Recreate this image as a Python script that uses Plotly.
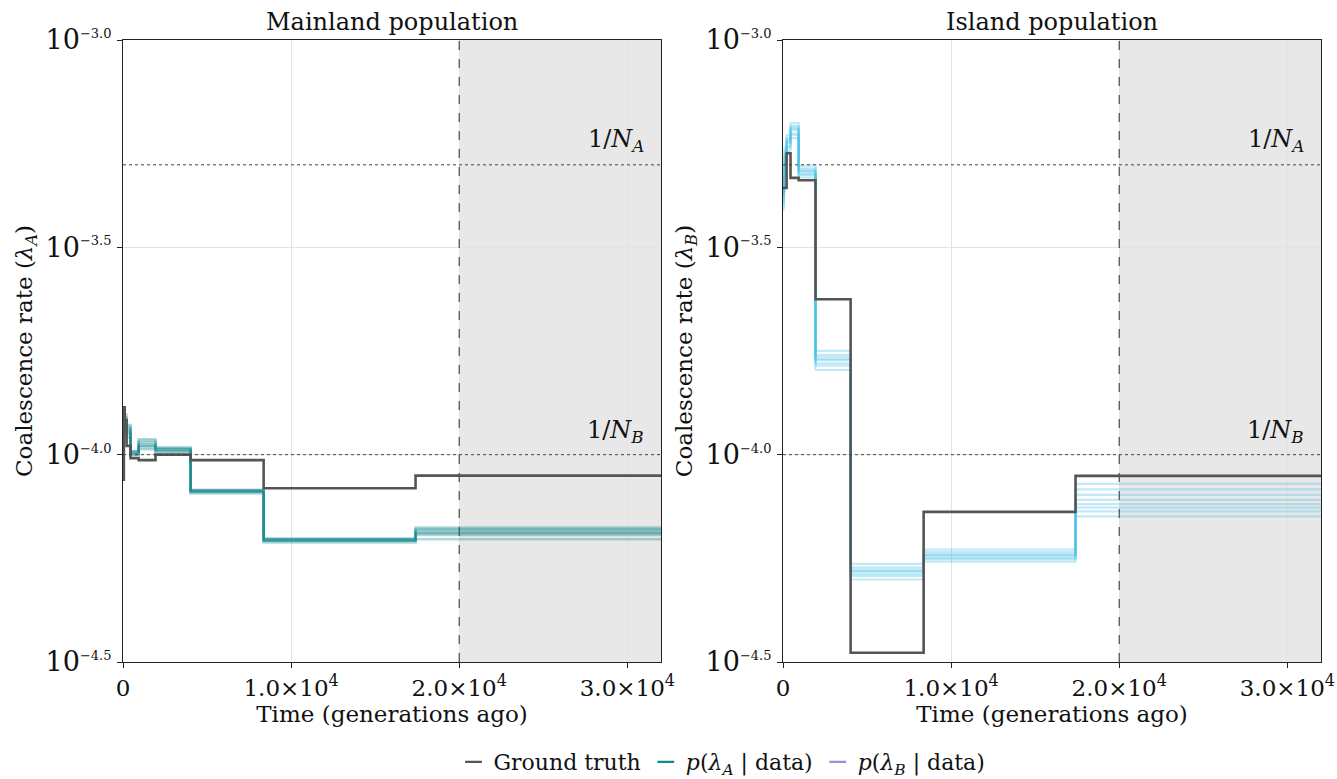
import plotly.graph_objects as go

# Epoch start times (generations ago); the last value closes the final epoch
epoch_starts = [0, 50, 103, 215, 447, 930, 1934, 4022, 8365, 17400]
t_max = 32000
t_split = 20000

# Reference coalescence levels
N_A = 2000
N_B = 10000

# Ground-truth coalescence rates per epoch (units of 1e-4)
truth_A = [0.87, 1.30, 1.21, 1.05, 0.98, 0.97, 1.00, 0.97, 0.83, 0.89]
truth_B = [4.40, 4.40, 4.40, 5.33, 4.65, 4.59, 2.37, 0.333, 0.728, 0.889]

# Posterior samples of lambda_A per epoch (units of 1e-4)
post_A = [
    [1.00, 1.12, 1.16, 1.10, 0.99, 1.03, 1.01, 0.806, 0.614, 0.625],
    [1.08, 1.22, 1.25, 1.18, 1.02, 1.09, 1.04, 0.823, 0.628, 0.668],
    [1.04, 1.16, 1.20, 1.14, 1.00, 1.05, 1.02, 0.814, 0.619, 0.645],
    [1.06, 1.20, 1.23, 1.16, 1.02, 1.07, 1.03, 0.820, 0.625, 0.659],
    [1.03, 1.15, 1.18, 1.13, 1.01, 1.04, 1.03, 0.812, 0.620, 0.640],
    [1.07, 1.19, 1.22, 1.17, 1.01, 1.08, 1.04, 0.821, 0.626, 0.662],
    [1.05, 1.17, 1.21, 1.15, 1.00, 1.06, 1.02, 0.817, 0.621, 0.652],
    [1.02, 1.21, 1.19, 1.12, 1.01, 1.05, 1.03, 0.815, 0.623, 0.648],
]

# Posterior samples of lambda_B per epoch (units of 1e-4)
post_B = [
    [3.90, 4.30, 4.90, 5.40, 5.80, 4.66, 1.60, 0.500, 0.552, 0.710],
    [4.50, 4.90, 5.50, 5.90, 6.30, 4.98, 1.78, 0.545, 0.590, 0.850],
    [4.10, 4.50, 5.10, 5.55, 5.95, 4.75, 1.66, 0.515, 0.563, 0.745],
    [4.30, 4.70, 5.30, 5.75, 6.15, 4.86, 1.72, 0.528, 0.576, 0.800],
    [4.00, 4.40, 5.00, 5.50, 5.90, 4.72, 1.64, 0.510, 0.560, 0.730],
    [4.40, 4.80, 5.40, 5.80, 6.20, 4.90, 1.74, 0.535, 0.582, 0.825],
    [4.20, 4.60, 5.20, 5.65, 6.05, 4.80, 1.69, 0.522, 0.569, 0.778],
    [4.25, 4.55, 5.25, 5.70, 6.10, 4.83, 1.70, 0.524, 0.572, 0.760],
]

x_tick_vals = [0, 10000, 20000, 30000]
x_tick_text = ["0", "1.0×10<sup>4</sup>", "2.0×10<sup>4</sup>", "3.0×10<sup>4</sup>"]
y_exponents = ["−4.5", "−4.0", "−3.5", "−3.0"]
y_tick_vals = [10 ** -4.5, 1e-4, 10 ** -3.5, 1e-3]

SCALE = 1e-4
FONT = "DejaVu Serif"
TRUTH_COLOR = "#555555"
COLOR_A = "#12898d"
COLOR_B = "#45c0e6"
LEGEND_B = "#9a8fe2"


def step_xy(values):
    xs = list(epoch_starts) + [t_max]
    ys = [v * SCALE for v in values] + [values[-1] * SCALE]
    return xs, ys


fig = go.Figure()

panels = [
    ("x", "y", post_A, truth_A, COLOR_A, 0.32, 2.4),
    ("x2", "y2", post_B, truth_B, COLOR_B, 0.32, 2.2),
]
for xref, yref, samples, truth, color, alpha, lw in panels:
    for s in samples:
        xs, ys = step_xy(s)
        fig.add_trace(go.Scatter(
            x=xs, y=ys, mode="lines", line=dict(color=color, width=lw, shape="hv"),
            opacity=alpha, showlegend=False, hoverinfo="skip", xaxis=xref, yaxis=yref))
    xs, ys = step_xy(truth)
    fig.add_trace(go.Scatter(
        x=xs, y=ys, mode="lines", line=dict(color=TRUTH_COLOR, width=2.6, shape="hv"),
        showlegend=False, xaxis=xref, yaxis=yref))

# Legend entries
for name, color in [("Ground truth", TRUTH_COLOR),
                    ("<i>p</i>(<i>λ</i><sub><i>A</i></sub> | data)", COLOR_A),
                    ("<i>p</i>(<i>λ</i><sub><i>B</i></sub> | data)", LEGEND_B)]:
    fig.add_trace(go.Scatter(
        x=[None], y=[None], mode="markers", name=name,
        marker=dict(symbol="line-ew", size=12, line=dict(color=color, width=2.2)),
        xaxis="x", yaxis="y"))

y_text = [f"10<sup><span style='font-size:13px'>{e}</span></sup>" for e in y_exponents]

axis_common = dict(
    showline=True, linecolor="#222222", linewidth=1.2, mirror=True,
    ticks="outside", ticklen=5, tickcolor="#222222", automargin=False,
    showgrid=True, gridcolor="#e3e3e3", gridwidth=1, zeroline=False,
)
x_common = dict(range=[0, t_max], tickvals=x_tick_vals, ticktext=x_tick_text,
                tickfont=dict(size=23),
                title=dict(text="Time (generations ago)", font=dict(size=23), standoff=6))
y_common = dict(domain=[1 - 662 / 779, 1 - 40 / 779], type="log", range=[-4.5, -3.0],
                tickvals=y_tick_vals, ticktext=y_text, tickfont=dict(size=27))

fig.update_layout(
    width=1337, height=779,
    margin=dict(l=0, r=0, t=0, b=0, autoexpand=False),
    paper_bgcolor="white", plot_bgcolor="white",
    font=dict(family=FONT, size=23, color="#111111"),
    xaxis=dict(domain=[123 / 1337, 661 / 1337], anchor="y", **x_common, **axis_common),
    xaxis2=dict(domain=[783 / 1337, 1321 / 1337], anchor="y2", **x_common, **axis_common),
    yaxis=dict(anchor="x",
               title=dict(text="Coalescence rate (<i>λ</i><sub><i>A</i></sub>)",
                          font=dict(size=23), standoff=6),
               **y_common, **axis_common),
    yaxis2=dict(anchor="x2",
                title=dict(text="Coalescence rate (<i>λ</i><sub><i>B</i></sub>)",
                           font=dict(size=23), standoff=6),
                **y_common, **axis_common),
    legend=dict(orientation="h", x=722 / 1337, xanchor="center", y=1 - 762 / 779,
                yanchor="middle", font=dict(size=22), itemwidth=30, tracegroupgap=0,
                bgcolor="rgba(0,0,0,0)"),
)

for xref, yref in [("x", "y"), ("x2", "y2")]:
    # Region beyond the split time
    fig.add_shape(type="rect", xref=xref, yref=f"{yref} domain", x0=t_split, x1=t_max,
                  y0=0, y1=1, fillcolor="#e8e8e8", line=dict(width=0), layer="below")
    fig.add_shape(type="line", xref=xref, yref=f"{yref} domain", x0=t_split, x1=t_split,
                  y0=0, y1=1, line=dict(color="#555555", width=1.3, dash="dash"))
    for N, lab in [(N_A, "A"), (N_B, "B")]:
        fig.add_shape(type="line", xref=f"{xref} domain", yref=yref, x0=0, x1=1,
                      y0=1 / N, y1=1 / N, line=dict(color="#444444", width=1, dash="dot"))
        fig.add_annotation(x=31100, y=-3.3 if lab == "A" else -4.0, xref=xref, yref=yref,
                           text=f"1/<i>N</i><sub><i>{lab}</i></sub>", showarrow=False,
                           xanchor="right", yanchor="bottom", yshift=6,
                           font=dict(size=24))

for label, x0, x1 in [("Mainland population", 123, 661), ("Island population", 783, 1321)]:
    fig.add_annotation(x=(x0 + x1) / 2 / 1337, y=1 - 22 / 779, xref="paper", yref="paper",
                       xanchor="center", yanchor="middle",
                       text=label, showarrow=False, font=dict(size=24))

fig.write_html("out.html")
